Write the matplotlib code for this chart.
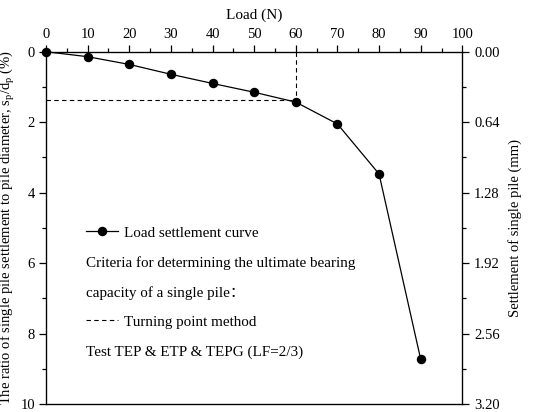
import matplotlib
matplotlib.use("Agg")
import matplotlib.pyplot as plt
from matplotlib.ticker import MultipleLocator
from matplotlib.lines import Line2D

plt.rcParams['font.family'] = ['Liberation Serif', 'Noto Sans CJK SC', 'DejaVu Serif']
plt.rcParams['mathtext.fontset'] = 'custom'
plt.rcParams['mathtext.rm'] = 'Liberation Serif'
plt.rcParams['mathtext.it'] = 'Liberation Serif'

loads = [0, 10, 20, 30, 40, 50, 60, 70, 80, 90]
ratio = [0.0, 0.14, 0.36, 0.64, 0.90, 1.15, 1.43, 2.05, 3.47, 8.73]
turn_load = 60
turn_ratio = 1.38
right_ticks = [0.00, 0.64, 1.28, 1.92, 2.56, 3.20]

fig = plt.figure(figsize=(5.5, 4.12), dpi=100)
ax = fig.add_axes([0.0836, 0.0194, 0.757, 0.855])

ax.plot(loads, ratio, color='black', lw=0.9, marker='o', ms=5.8, zorder=3, clip_on=False)
ax.plot([0, turn_load], [turn_ratio, turn_ratio], color='black', lw=0.8, ls=(0, (4, 3)))
ax.plot([turn_load, turn_load], [0, turn_ratio], color='black', lw=0.8, ls=(0, (4, 3)))

ax.set_xlim(0, 100)
ax.set_ylim(10, 0)
ax.xaxis.tick_top()
ax.xaxis.set_label_position('top')
ax.xaxis.set_major_locator(MultipleLocator(10))
ax.xaxis.set_minor_locator(MultipleLocator(5))
ax.yaxis.set_major_locator(MultipleLocator(2))
ax.yaxis.set_minor_locator(MultipleLocator(1))
ax.tick_params(which='major', direction='out', length=5, width=0.9, labelsize=10.5, pad=3)
ax.tick_params(which='minor', direction='out', length=3, width=0.9)
ax.set_xlabel('Load (N)', fontsize=11, labelpad=6)
ax.set_ylabel('The ratio of single pile settlement to pile diameter, s$_\\mathrm{p}$/d$_\\mathrm{p}$ (%)',
              fontsize=10.5, labelpad=2)
for s in ax.spines.values():
    s.set_linewidth(0.9)

ax2 = ax.twinx()
ax2.set_ylim(3.2, 0)
ax2.set_yticks(right_ticks)
ax2.set_yticklabels([f'{v:.2f}' for v in right_ticks])
ax2.yaxis.set_minor_locator(MultipleLocator(0.32))
ax2.tick_params(which='major', direction='out', length=5, width=0.9, labelsize=10.5)
ax2.tick_params(which='minor', direction='out', length=3, width=0.9)
ax2.set_ylabel('Settlement of single pile (mm)', fontsize=10.5, labelpad=6)

fs = 10.9
x0 = 0.096
h1 = Line2D([], [], color='black', lw=0.9, marker='o', ms=5.8)
h4 = Line2D([], [], color='black', lw=0.8, ls=(0, (4, 3)))
common = dict(loc='center left', frameon=False, fontsize=fs, handlelength=2.1,
              handletextpad=0.4, borderpad=0, borderaxespad=0)
leg1 = ax.legend([h1], ['Load settlement curve'], bbox_to_anchor=(x0, 0.486), **common)
ax.add_artist(leg1)
leg2 = ax.legend([h4], ['Turning point method'], bbox_to_anchor=(x0, 0.233), **common)
ax.text(x0, 0.401, 'Criteria for determining the ultimate bearing', transform=ax.transAxes,
        fontsize=fs, va='center', ha='left')
ax.text(x0, 0.315, 'capacity of a single pile\uff1a', transform=ax.transAxes,
        fontsize=fs, va='center', ha='left')
ax.text(x0, 0.148, 'Test TEP & ETP & TEPG (LF=2/3)', transform=ax.transAxes,
        fontsize=fs, va='center', ha='left')

fig.savefig('out.png', dpi=100)
